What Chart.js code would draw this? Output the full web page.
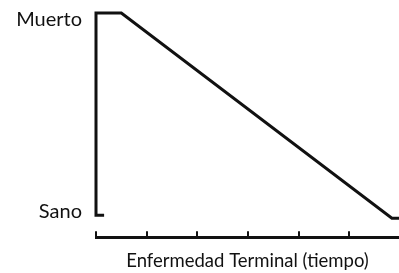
<!DOCTYPE html>
<html lang="es">
<head>
  <meta charset="UTF-8" />
  <title>Enfermedad Terminal</title>
  <script src="https://cdn.jsdelivr.net/npm/chart.js"></script>
  <style>
    html, body { margin: 0; padding: 0; background: #fff; }
    #wrap { width: 399px; height: 273px; }
  </style>
</head>
<body>
  <div id="wrap"><canvas id="trajChart"></canvas></div>

  <script>
    // trajectory: time (x) vs health state (y, 0 = Sano, 100 = Muerto)
    const timeValues = [0.16, 0, 0, 0.5, 5.84, 5.98];
    const stateValues = [0, 0, 100, 100, -1.5, -1.5];

    const xTickValues = [0, 1, 2, 3, 4, 5];
    const yTickValues = [2, 97];
    const yTickLabels = ['Sano', 'Muerto'];
    const xTitle = 'Enfermedad Terminal (tiempo)';

    const ink = '#111';
    const font = 'Lato, "Open Sans", sans-serif';

    const ctx = document.getElementById('trajChart').getContext('2d');
    new Chart(ctx, {
      type: 'scatter',
      data: {
        datasets: [{
          data: timeValues.map((t, i) => ({ x: t, y: stateValues[i] })),
          showLine: true,
          borderColor: ink,
          borderWidth: 3,
          borderJoinStyle: 'miter',
          borderCapStyle: 'butt',
          pointRadius: 0,
          tension: 0,
          clip: false
        }]
      },
      options: {
        responsive: true,
        maintainAspectRatio: false,
        animation: false,
        layout: { padding: { top: 8, right: 0, bottom: 0, left: 0 } },
        plugins: { legend: { display: false }, tooltip: { enabled: false } },
        scales: {
          x: {
            type: 'linear',
            min: 0,
            max: 5.98,
            afterBuildTicks: s => { s.ticks = xTickValues.map(v => ({ value: v })); },
            border: { display: true, color: ink, width: 3 },
            grid: { drawOnChartArea: false, color: ink, lineWidth: 2, tickLength: -6 },
            ticks: { display: false },
            title: {
              display: true,
              text: xTitle,
              color: ink,
              font: { family: font, size: 18.5 },
              padding: { top: 18.6, bottom: 1 }
            }
          },
          y: {
            min: -10.9,
            max: 102.5,
            afterBuildTicks: s => { s.ticks = yTickValues.map(v => ({ value: v })); },
            afterFit: s => { s.width = 96; s.paddingTop = 0; s.paddingBottom = 0; },
            border: { display: false },
            grid: { display: false, drawTicks: false, tickLength: 0 },
            ticks: {
              color: ink,
              padding: 14,
              font: { family: font, size: 20 },
              callback: (v, i) => yTickLabels[i]
            }
          }
        }
      }
    });
  </script>
</body>
</html>
